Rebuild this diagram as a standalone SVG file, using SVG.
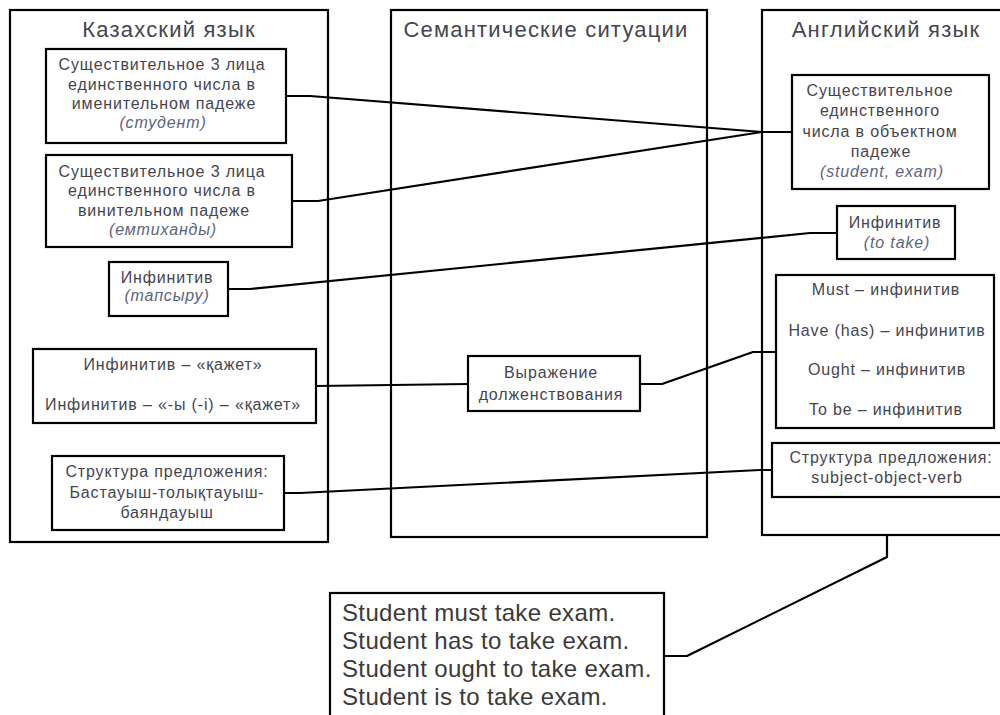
<svg xmlns="http://www.w3.org/2000/svg" width="1000" height="715" viewBox="0 0 1000 715">
<style>
rect{fill:#fff;stroke:#000;stroke-width:2.2}
.c{fill:none;stroke:#000;stroke-width:2.2;stroke-linejoin:round}
text{font-family:"Liberation Sans",Arial,sans-serif;fill:#45454f;text-anchor:middle}
.t{font-size:22px;letter-spacing:1.2px}
.b{font-size:16px;letter-spacing:0.85px}
.i{font-style:italic;fill:#5a6580}
.s{font-size:24px;letter-spacing:0.35px;text-anchor:start;fill:#3a3a3a}
</style>
<rect x="0" y="0" width="1000" height="715" style="fill:#fff;stroke:none"/>
<g id="kazakh">
<rect x="10" y="10" width="318" height="532"/>
<text class="t" x="169" y="37">Казахский язык</text>
</g>
<g id="semantic">
<rect x="391" y="10" width="316" height="527"/>
<text class="t" x="546" y="37">Семантические ситуации</text>
</g>
<g id="english">
<rect x="762" y="10" width="243" height="525"/>
<text class="t" x="886" y="37">Английский язык</text>
</g>
<g id="kz-nom">
<rect x="46" y="49" width="240" height="94"/>
<text class="b" x="162" y="70">Существительное 3 лица</text>
<text class="b" x="162" y="90">единственного числа в</text>
<text class="b" x="164" y="109">именительном падеже</text>
<text class="b i" x="163" y="128">(студент)</text>
</g>
<g id="kz-acc">
<rect x="46" y="155" width="246" height="92"/>
<text class="b" x="162" y="177">Существительное 3 лица</text>
<text class="b" x="162" y="196">единственного числа в</text>
<text class="b" x="164" y="216">винительном падеже</text>
<text class="b i" x="163" y="235">(емтиханды)</text>
</g>
<g id="kz-inf">
<rect x="109" y="262" width="119" height="54"/>
<text class="b" x="167" y="283">Инфинитив</text>
<text class="b i" x="167" y="301">(тапсыру)</text>
</g>
<g id="kz-kazhet">
<rect x="33" y="349" width="283" height="74"/>
<text class="b" x="173" y="370">Инфинитив – «қажет»</text>
<text class="b" x="173" y="410">Инфинитив – «-ы (-і) – «қажет»</text>
</g>
<g id="kz-struct">
<rect x="52" y="456" width="232" height="74"/>
<text class="b" x="167" y="477">Структура предложения:</text>
<text class="b" x="167" y="498">Бастауыш-толықтауыш-</text>
<text class="b" x="167" y="518">баяндауыш</text>
</g>
<g id="obligation">
<rect x="468" y="356" width="172" height="55"/>
<text class="b" x="551" y="378">Выражение</text>
<text class="b" x="551" y="400">долженствования</text>
</g>
<g id="en-obj">
<rect x="792" y="75" width="197" height="114"/>
<text class="b" x="880" y="96">Существительное</text>
<text class="b" x="880" y="116">единственного</text>
<text class="b" x="880" y="137">числа в объектном</text>
<text class="b" x="881" y="157">падеже</text>
<text class="b i" x="882" y="177">(student, exam)</text>
</g>
<g id="en-inf">
<rect x="837" y="206" width="118" height="53"/>
<text class="b" x="895" y="228">Инфинитив</text>
<text class="b i" x="897" y="248">(to take)</text>
</g>
<g id="en-modals">
<rect x="776" y="275" width="218" height="153"/>
<text class="b" x="886" y="295">Must – инфинитив</text>
<text class="b" x="887" y="336">Have (has) – инфинитив</text>
<text class="b" x="887" y="375">Ought – инфинитив</text>
<text class="b" x="886" y="415">To be – инфинитив</text>
</g>
<g id="en-struct">
<rect x="772" y="443" width="231" height="54"/>
<text class="b" x="891" y="463">Структура предложения:</text>
<text class="b" x="887" y="483">subject-object-verb</text>
</g>
<g id="examples">
<rect x="330" y="593" width="334" height="130"/>
<text class="s" x="342" y="621">Student must take exam.</text>
<text class="s" x="342" y="649">Student has to take exam.</text>
<text class="s" x="342" y="677">Student ought to take exam.</text>
<text class="s" x="342" y="705">Student is to take exam.</text>
</g>
<g id="connectors">
<path class="c" d="M286,96 L310,96 L762,132 L792,132"/>
<path class="c" d="M292,201 L318,201 L762,132"/>
<path class="c" d="M228,289 L250,289 L810,233 L837,233"/>
<path class="c" d="M316,386 L468,384"/>
<path class="c" d="M640,384 L662,384 L753,352 L776,352"/>
<path class="c" d="M284,493 L300,493 L760,470 L772,470"/>
<path class="c" d="M664,656 L687,656 L887,557 L887,535"/>
</g>
</svg>
